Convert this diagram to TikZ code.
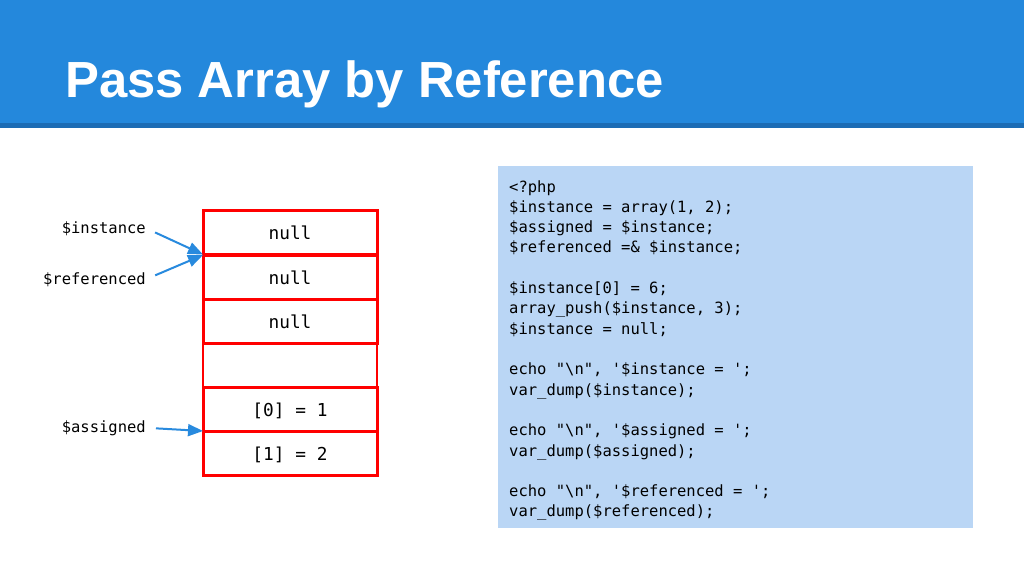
\documentclass[tikz,border=0pt]{standalone}
\usepackage{fontspec}
\setmainfont{Liberation Sans}
\setmonofont{DejaVu Sans Mono}
\usetikzlibrary{arrows.meta}
\definecolor{hdr}{RGB}{36,136,220}
\definecolor{hdrdark}{RGB}{28,108,180}
\definecolor{codebg}{RGB}{186,214,245}
\definecolor{arr}{RGB}{40,138,222}
\definecolor{cellred}{RGB}{255,0,0}
\tikzset{
  cell/.style={draw=cellred, line width=3pt, minimum width=174pt, minimum height=44pt, inner sep=0pt, outer sep=0pt,
    font=\fontsize{17.8}{20}\ttfamily, text height=14pt, text depth=0pt},
  gapside/.style={draw=cellred, line width=1.5pt},
  varlabel/.style={anchor=base east, inner sep=0pt, font=\fontsize{15.5}{18}\ttfamily},
  codeln/.style={anchor=base west, inner sep=0pt, font=\fontsize{15.5}{18}\ttfamily},
  ptr/.style={draw=arr, line width=2pt, -{Triangle[length=15pt,width=12pt]}, shorten <=10pt},
}
\newcommand{\codeline}[2]{\node[codeln] (code#1) at (509,{192+20.31*#1}) {#2};}
\begin{document}
\begin{tikzpicture}[x=1pt,y=-1pt]
\useasboundingbox (0,0) rectangle (1024,576);
\fill[white] (0,0) rectangle (1024,576);
% header
\fill[hdr] (0,0) rectangle (1024,123);
\fill[hdrdark] (0,123) rectangle (1024,128);
\node[anchor=base west, inner sep=0pt, text=white, font=\fontsize{50.8}{60}\selectfont\bfseries] (title) at (65,97) {Pass Array by Reference};
% cells
\node[cell] (c1) at (290,232.5) {null};
\node[cell] (c2) at (290,277) {null};
\node[cell] (c3) at (290,321) {null};
\node[cell] (c4) at (290,409) {[0] = 1};
\node[cell] (c5) at (290,453.5) {[1] = 2};
\draw[gapside] (c3.south west) -- (c4.north west) (c3.south east) -- (c4.north east);
% labels
\node[varlabel] (linst) at (146,233) {\$instance};
\node[varlabel] (lref) at (146,284) {\$referenced};
\node[varlabel] (lass) at (146,432) {\$assigned};
\draw[ptr] (linst.east) -- (c1.south west);
\draw[ptr] (lref.east) -- (c2.north west);
\draw[ptr] (lass.east) -- (c4.south west);
% code
\fill[codebg] (498,166) rectangle (973,528);
\codeline{0}{<?php}
\codeline{1}{\$instance = array(1, 2);}
\codeline{2}{\$assigned = \$instance;}
\codeline{3}{\$referenced =\& \$instance;}
\codeline{5}{\$instance[0] = 6;}
\codeline{6}{array\_push(\$instance, 3);}
\codeline{7}{\$instance = null;}
\codeline{9}{echo "\textbackslash n", '\$instance = ';}
\codeline{10}{var\_dump(\$instance);}
\codeline{12}{echo "\textbackslash n", '\$assigned = ';}
\codeline{13}{var\_dump(\$assigned);}
\codeline{15}{echo "\textbackslash n", '\$referenced = ';}
\codeline{16}{var\_dump(\$referenced);}
\end{tikzpicture}
\end{document}
